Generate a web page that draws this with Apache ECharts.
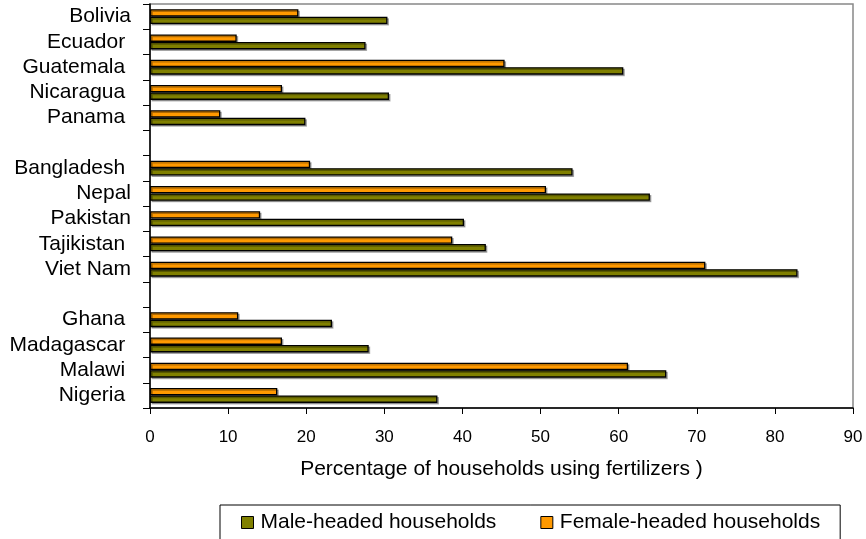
<!DOCTYPE html>
<html style="height: 100%">
  <head>
    <meta charset="UTF-8">
    <meta name="viewport" content="width=device-width, initial-scale=1.0">
  </head>

  <body style="height: 100%; margin: 0; background: #fff">
    <div id="container" style="width: 866px; height: 539px"></div>
    <script type="text/javascript" src="https://fastly.jsdelivr.net/npm/echarts@6.0.0/dist/echarts.min.js"></script>
    <script>
    var dom = document.getElementById('container');
    var myChart = echarts.init(dom, null, {
      renderer: 'canvas',
      useDirtyRect: false
    });

    // empty strings are the gaps between the regions
    let countries = ['Bolivia', 'Ecuador ', 'Guatemala ', 'Nicaragua ', 'Panama ', '',
      'Bangladesh ', 'Nepal', 'Pakistan', 'Tajikistan ', 'Viet Nam', '',
      'Ghana ', 'Madagascar ', 'Malawi ', 'Nigeria '];
    let maleValues = [30.4, 27.6, 60.6, 30.6, 19.9, null,
      54.1, 64.0, 40.2, 43.0, 82.9, null,
      23.3, 28.0, 66.1, 36.8];
    let femaleValues = [19.0, 11.1, 45.4, 16.9, 9.0, null,
      20.5, 50.7, 14.1, 38.7, 71.1, null,
      11.3, 16.9, 61.2, 16.3];
    let maleName = 'Male-headed households';
    let femaleName = 'Female-headed households';

    var font = 'Arial, "Liberation Sans", sans-serif';
    var barStyle = function (color) {
      return {
        color: color,
        borderColor: '#000',
        borderWidth: 1.3,
        shadowColor: 'rgba(0,0,0,0.3)',
        shadowOffsetX: 1.5,
        shadowOffsetY: 1.5
      };
    };

    var option = {
      animation: false,
      textStyle: { fontFamily: font },
      grid: {
        left: 150,
        right: 13,
        top: 4,
        bottom: 131,
        show: true,
        borderColor: '#888',
        borderWidth: 1.5
      },
      legend: {
        data: [maleName, femaleName],
        left: 220,
        top: 505,
        icon: 'rect',
        itemWidth: 12,
        itemHeight: 12,
        itemGap: 44,
        borderColor: '#000',
        borderWidth: 1,
        borderRadius: 0,
        padding: [7, 20, 7, 21],
        itemStyle: { borderColor: '#000', borderWidth: 1 },
        textStyle: { fontSize: 21, color: '#000', fontFamily: font, padding: [0, 0, 0, 2] }
      },
      yAxis: {
        type: 'category',
        inverse: true,
        data: countries,
        axisLine: { lineStyle: { color: '#000', width: 1.5 } },
        axisTick: { show: true, interval: 0, length: 7, lineStyle: { color: '#000' } },
        axisLabel: { interval: 0, fontSize: 21, color: '#000', margin: 19, fontFamily: font }
      },
      xAxis: {
        type: 'value',
        min: 0,
        max: 90,
        interval: 10,
        splitLine: { show: false },
        axisLine: { show: true, lineStyle: { color: '#000', width: 1.5 } },
        axisTick: { show: true, length: 6, lineStyle: { color: '#000' } },
        axisLabel: { fontSize: 17, color: '#000', margin: 21, fontFamily: font },
        name: 'Percentage of households using fertilizers )',
        nameLocation: 'middle',
        nameGap: 51,
        nameTextStyle: { fontSize: 21, color: '#000', fontFamily: font }
      },
      series: [
        {
          name: femaleName,
          type: 'bar',
          barWidth: 7.5,
          barGap: '0%',
          itemStyle: barStyle('#FF9900'),
          data: femaleValues
        },
        {
          name: maleName,
          type: 'bar',
          barWidth: 7.5,
          barGap: '0%',
          itemStyle: barStyle('#808000'),
          data: maleValues
        }
      ]
    };

    if (option && typeof option === 'object') {
      myChart.setOption(option);
    }

    window.addEventListener('resize', myChart.resize);
    </script>
  </body>
</html>
